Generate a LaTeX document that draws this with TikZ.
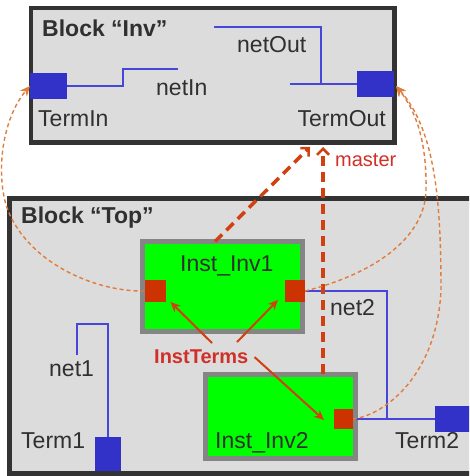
\documentclass[tikz,border=0pt]{standalone}
\usepackage{fontspec}
\setmainfont{Liberation Sans}
\usetikzlibrary{arrows.meta,calc}
\definecolor{blockfill}{HTML}{DCDCDC}
\definecolor{blockdark}{HTML}{333333}
\definecolor{termblue}{HTML}{3232C8}
\definecolor{wireblue}{HTML}{4646D8}
\definecolor{instgreen}{HTML}{00FF00}
\definecolor{instgray}{HTML}{858585}
\definecolor{instred}{HTML}{CC3300}
\definecolor{dashred}{HTML}{D04010}
\definecolor{labelred}{HTML}{D03028}
\definecolor{curveor}{HTML}{E07C3C}
\definecolor{textgray}{HTML}{303030}
\begin{document}
\begin{tikzpicture}[x=1pt,y=-1pt,
  blockbox/.style={draw=blockdark,line width=4.5pt,fill=blockfill,inner sep=0pt,outer sep=0pt},
  instbox/.style={draw=instgray,line width=5pt,fill=instgreen,inner sep=0pt,outer sep=0pt},
  termsq/.style={fill=termblue,inner sep=0pt,outer sep=0pt},
  itermsq/.style={fill=instred,inner sep=0pt,outer sep=0pt},
  wire/.style={draw=wireblue,line width=2pt},
  lbl/.style={font=\fontsize{23}{26}\selectfont,text=textgray,inner sep=0pt,anchor=base west},
  blbl/.style={font=\fontsize{23}{26}\selectfont\bfseries,text=textgray,inner sep=0pt,anchor=base west},
  redlbl/.style={font=\fontsize{20}{22}\selectfont,text=labelred,inner sep=0pt,anchor=base west},
  masterarrow/.style={draw=dashred,line width=3.5pt,dash pattern=on 10pt off 6pt,
     -{Straight Barb[length=6pt,width=12pt,line width=2.5pt]}},
  instarrow/.style={draw=dashred,line width=2pt,-{Stealth[length=10pt,width=9pt]}},
  curvearrow/.style={draw=curveor,line width=1.4pt,dash pattern=on 4pt off 3pt,
     -{Stealth[length=10pt,width=9pt]}}]
\useasboundingbox (0,0) rectangle (469,476);
\clip (0,0) rectangle (469,476);
\fill[white] (0,0) rectangle (469,476);

% Block "Inv"
\node[blockbox,minimum width=363.5pt,minimum height=134.5pt] (inv) at (212.75,75.25) {};
\node[blbl] (tinv) at (42,37) {Block “Inv"};
\node[termsq,minimum width=37pt,minimum height=26pt] (termin) at (48.5,86) {};
\node[termsq,minimum width=37pt,minimum height=26pt] (termout) at (375.5,84) {};
\coordinate (nin) at (178,69);
\draw[wire] (termin.east) -- ++(56,0) |- (nin);
\coordinate (nout) at (214,27);
\coordinate (noutj) at (321,84);
\coordinate (noutl) at (290,84);
\draw[wire] (nout) -| (noutj);
\draw[wire] (noutl) -- (termout.west);
\node[lbl] (lnetout) at (237,53) {netOut};
\node[lbl] (lnetin) at (156,96) {netIn};
\node[lbl] (ltermin) at (38,127) {TermIn};
\node[lbl,anchor=base east] (ltermout) at (386,127) {TermOut};

% Block "Top"
\node[blockbox,minimum width=480pt,minimum height=275pt] (top) at (249.5,336) {};
\node[blbl] (ttop) at (21,223) {Block “Top"};

% net1 and Term1
\node[termsq,minimum width=26pt,minimum height=34pt] (term1) at (108,454) {};
\coordinate (n1) at (77,355);
\coordinate (n1top) at (107.5,324);
\draw[wire] (n1) |- (n1top) -- (n1top |- term1.north);
\node[lbl] (lnet1) at (49,376) {net1};
\node[lbl] (lterm1) at (21,448) {Term1};

% Term2
\node[termsq,minimum width=45pt,minimum height=26pt] (term2) at (457.5,419) {};
\node[lbl] (lterm2) at (395,448) {Term2};

% instances
\node[instbox,minimum width=160pt,minimum height=90pt] (inv1) at (222.5,286.5) {};
\node[instbox,minimum width=150pt,minimum height=84pt] (inv2) at (280.5,416.5) {};
\node[lbl] (linv1) at (180,271) {Inst\_Inv1};
\node[lbl] (linv2) at (215,448) {Inst\_Inv2};
\node[itermsq,minimum width=21pt,minimum height=22pt] (it1) at (155,291) {};
\node[itermsq,minimum width=20pt,minimum height=22pt] (it2) at (295,291) {};
\node[itermsq,minimum width=19pt,minimum height=20pt] (it3) at (343.5,419) {};

% net2
\coordinate (n2j) at (387,419);
\draw[wire] (it2.east) -| (n2j);
\draw[wire] (inv2.east |- it3) -- (term2.west);
\node[lbl] (lnet2) at (330,315) {net2};

% master arrows
\coordinate (m1e) at (310,147);
\coordinate (m2e) at (323,147);
\draw[masterarrow] ($(inv1.north)+(-7.5,0)$) -- (m1e);
\draw[masterarrow] ($(inv2.north)+(42.5,-1)$) -- (m2e);
\node[redlbl] (lmaster) at (335,166) {master};

% InstTerms
\node[redlbl,font=\fontsize{20}{22}\selectfont\bfseries] (iterms) at (154,363) {InstTerms};
\draw[instarrow] ($(iterms.north west)+(58,-6)$) -- ($(it1.south east)+(5,0)$);
\draw[instarrow] ($(iterms.north west)+(83,-7)$) -- ($(it2.south west)+(-7,-2)$);
\draw[instarrow] ($(iterms.north east)+(6,8)$) -- ($(it3.west)+(-10,1)$);

% orange curves
\draw[curvearrow] (it1.west) .. controls (95,292) and (25,262) .. (6,205)
   .. controls (-5,165) and (5,115) .. (termin.west);
\draw[curvearrow] (it2.east) .. controls (370,275) and (425,240) .. (426,190)
   .. controls (427,140) and (415,110) .. ($(termout.east)+(2,2)$);
\draw[curvearrow] (it3.east) .. controls (385,415) and (437,375) .. (441,290)
   .. controls (441,200) and (435,130) .. ($(termout.east)+(2,2)$);
\end{tikzpicture}
\end{document}
